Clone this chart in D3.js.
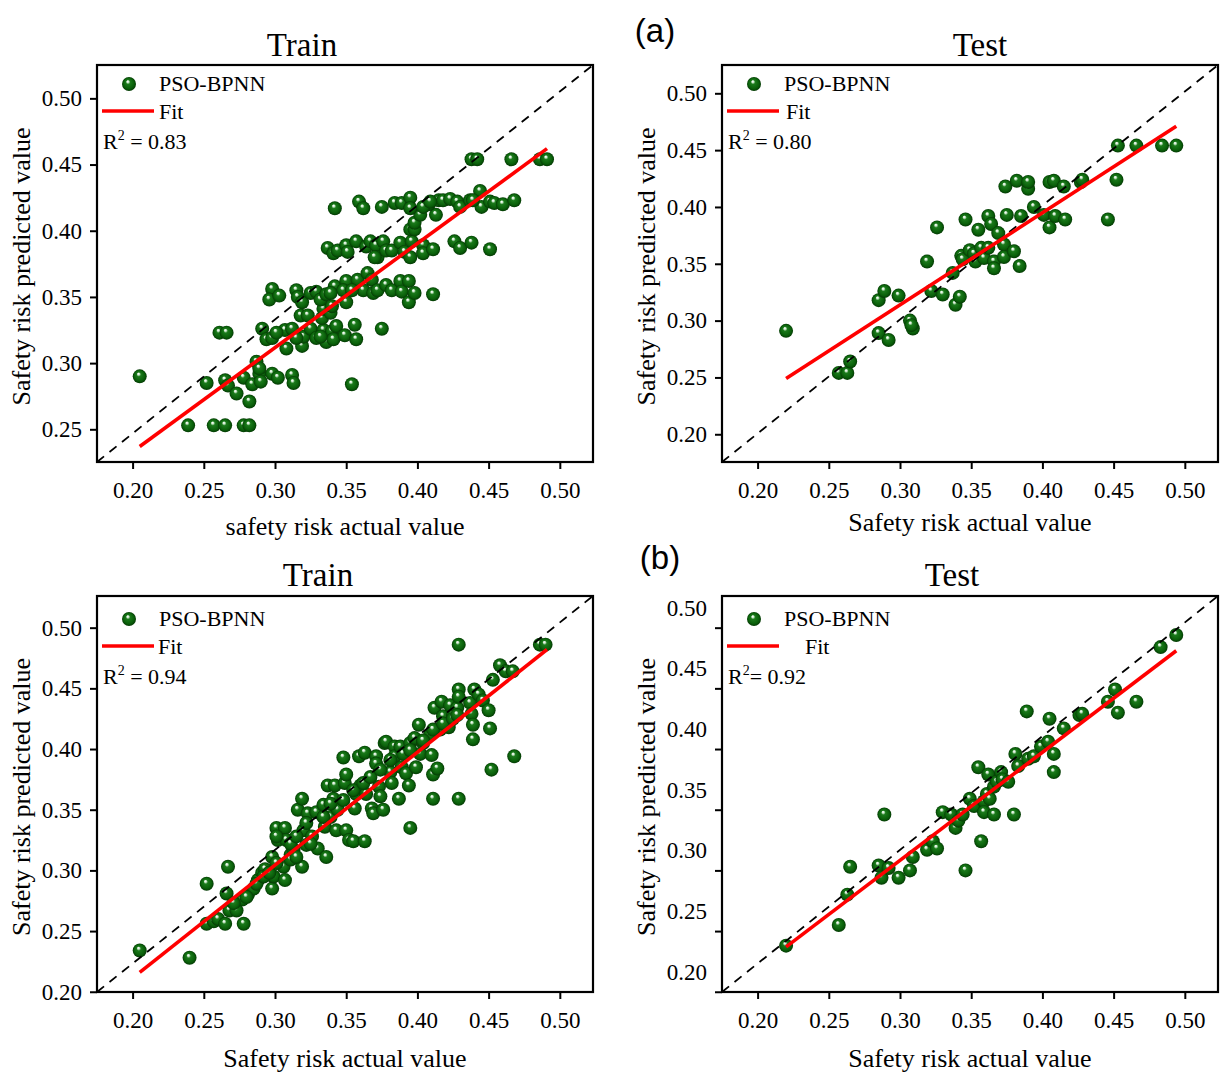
<!DOCTYPE html>
<html>
<head>
<meta charset="utf-8">
<script src="https://cdn.jsdelivr.net/npm/d3@7"></script>
<style>
  body { margin: 0; background: #fff; }
  svg text { font-family: "Liberation Serif", "Times New Roman", serif; fill: #000; }
</style>
</head>
<body>
<div id="chart"></div>
<script>

// ---- data (actual, predicted) ----
var xTicks = [0.20, 0.25, 0.30, 0.35, 0.40, 0.45, 0.50];
var yTicksA = [0.25, 0.30, 0.35, 0.40, 0.45, 0.50];
var yTicksB = [0.20, 0.25, 0.30, 0.35, 0.40, 0.45, 0.50];

var trainA = [
  [0.205,0.290],
  [0.239,0.253],[0.257,0.253],[0.265,0.253],[0.278,0.253],[0.282,0.253],
  [0.252,0.285],[0.265,0.287],[0.267,0.283],[0.273,0.277],[0.282,0.271],[0.278,0.289],[0.284,0.284],
  [0.289,0.292],[0.290,0.286],[0.298,0.292],[0.302,0.289],[0.312,0.291],[0.313,0.285],[0.287,0.301],
  [0.289,0.296],[0.354,0.284],
  [0.261,0.323],[0.266,0.323],[0.291,0.326],[0.294,0.318],[0.298,0.319],[0.307,0.325],[0.308,0.311],
  [0.312,0.326],[0.319,0.313],[0.320,0.320],[0.325,0.326],[0.329,0.319],[0.334,0.325],[0.336,0.316],
  [0.340,0.324],[0.341,0.318],[0.343,0.328],[0.349,0.321],[0.356,0.329],[0.357,0.318],[0.375,0.326],
  [0.301,0.323],[0.315,0.319],[0.332,0.320],
  [0.318,0.336],[0.323,0.336],[0.333,0.334],[0.334,0.341],[0.339,0.338],[0.340,0.343],
  [0.298,0.356],[0.296,0.348],[0.303,0.351],[0.315,0.355],[0.316,0.350],[0.319,0.346],[0.325,0.353],
  [0.329,0.354],[0.332,0.348],[0.336,0.352],[0.342,0.358],[0.350,0.362],[0.350,0.346],[0.358,0.363],
  [0.362,0.355],[0.365,0.368],[0.368,0.363],[0.369,0.353],[0.372,0.355],[0.378,0.359],[0.382,0.355],
  [0.388,0.362],[0.389,0.354],[0.394,0.362],[0.394,0.346],[0.398,0.353],[0.411,0.352],[0.348,0.355],
  [0.339,0.353],[0.354,0.355],
  [0.337,0.387],[0.341,0.383],[0.344,0.385],[0.350,0.389],[0.351,0.384],[0.357,0.392],[0.364,0.388],
  [0.367,0.392],[0.371,0.389],[0.372,0.380],[0.376,0.392],[0.378,0.385],[0.382,0.385],[0.388,0.391],
  [0.391,0.384],[0.395,0.380],[0.396,0.392],[0.404,0.389],[0.404,0.383],[0.411,0.386],[0.426,0.392],
  [0.430,0.387],[0.438,0.391],[0.451,0.386],[0.370,0.380],
  [0.395,0.401],[0.398,0.401],[0.398,0.406],[0.402,0.412],[0.413,0.412],
  [0.342,0.417],[0.359,0.422],[0.362,0.417],[0.375,0.418],[0.384,0.421],[0.389,0.421],[0.395,0.425],
  [0.395,0.417],[0.408,0.420],[0.415,0.423],[0.418,0.423],[0.423,0.424],[0.428,0.422],[0.430,0.418],
  [0.437,0.423],[0.444,0.430],[0.445,0.418],[0.451,0.422],[0.454,0.421],[0.460,0.420],[0.468,0.423],
  [0.404,0.418],[0.409,0.422],[0.439,0.423],
  [0.438,0.454],[0.442,0.454],[0.466,0.454],[0.486,0.454],[0.491,0.454]
];

var testA = [
  [0.220,0.291],[0.257,0.254],[0.263,0.254],[0.265,0.264],[0.285,0.289],[0.292,0.283],[0.285,0.318],
  [0.289,0.326],[0.299,0.322],[0.307,0.300],[0.309,0.293],[0.308,0.296],[0.319,0.352],[0.322,0.326],
  [0.330,0.323],[0.337,0.342],[0.339,0.314],[0.342,0.321],[0.326,0.382],[0.346,0.389],[0.343,0.357],
  [0.344,0.354],[0.349,0.362],[0.352,0.359],[0.353,0.352],[0.355,0.380],[0.357,0.364],[0.359,0.355],
  [0.362,0.392],[0.362,0.364],[0.364,0.385],[0.366,0.352],[0.366,0.346],[0.369,0.377],[0.373,0.367],
  [0.373,0.356],[0.374,0.418],[0.375,0.393],[0.380,0.361],[0.382,0.423],[0.384,0.348],[0.385,0.392],
  [0.390,0.416],[0.390,0.422],[0.394,0.400],[0.401,0.393],[0.405,0.382],[0.405,0.422],[0.408,0.423],
  [0.409,0.392],[0.415,0.418],[0.416,0.389],[0.427,0.422],[0.428,0.424],[0.446,0.389],[0.452,0.424],
  [0.453,0.454],[0.466,0.454],[0.484,0.454],[0.494,0.454]
];

var trainB = [
  [0.205,0.234],[0.240,0.228],[0.252,0.289],[0.252,0.256],[0.257,0.258],[0.260,0.260],[0.265,0.256],
  [0.266,0.281],[0.267,0.303],[0.268,0.267],[0.273,0.267],[0.277,0.276],[0.278,0.256],[0.281,0.280],
  [0.285,0.285],[0.288,0.292],[0.291,0.298],[0.293,0.301],[0.298,0.285],[0.298,0.311],[0.299,0.295],
  [0.301,0.335],[0.302,0.325],[0.306,0.303],[0.307,0.292],[0.307,0.335],[0.308,0.325],[0.311,0.313],
  [0.313,0.317],[0.316,0.350],[0.319,0.303],[0.319,0.359],[0.320,0.333],[0.322,0.321],[0.323,0.347],
  [0.326,0.328],[0.329,0.348],[0.330,0.318],[0.334,0.354],[0.335,0.336],[0.336,0.311],[0.337,0.370],
  [0.339,0.344],[0.341,0.359],[0.342,0.370],[0.343,0.333],[0.344,0.350],[0.348,0.393],[0.349,0.372],
  [0.350,0.379],[0.350,0.333],[0.352,0.325],[0.355,0.324],[0.356,0.351],[0.357,0.363],[0.359,0.394],
  [0.360,0.370],[0.363,0.397],[0.363,0.324],[0.364,0.363],[0.368,0.351],[0.369,0.347],[0.371,0.394],
  [0.371,0.388],[0.373,0.369],[0.374,0.361],[0.376,0.350],[0.377,0.405],[0.378,0.406],[0.381,0.381],
  [0.382,0.372],[0.384,0.402],[0.384,0.394],[0.387,0.359],[0.388,0.402],[0.389,0.385],[0.392,0.380],
  [0.394,0.370],[0.395,0.405],[0.395,0.335],[0.398,0.409],[0.399,0.385],[0.401,0.420],[0.402,0.396],
  [0.404,0.405],[0.409,0.412],[0.410,0.395],[0.411,0.379],[0.411,0.359],[0.412,0.434],[0.414,0.384],
  [0.416,0.416],[0.417,0.439],[0.418,0.427],[0.422,0.418],[0.423,0.436],[0.425,0.428],[0.428,0.434],
  [0.429,0.486],[0.429,0.449],[0.429,0.443],[0.429,0.359],[0.437,0.438],[0.438,0.429],[0.439,0.420],
  [0.439,0.408],[0.440,0.449],[0.443,0.445],[0.446,0.440],[0.450,0.432],[0.451,0.417],[0.452,0.383],
  [0.453,0.457],[0.458,0.469],[0.462,0.464],[0.467,0.464],[0.468,0.394],[0.486,0.486],[0.490,0.486],
  [0.301,0.328],[0.311,0.322],[0.315,0.328],[0.322,0.339],[0.334,0.344],[0.339,0.355],[0.348,0.358],
  [0.355,0.366],[0.362,0.372],[0.367,0.377],[0.374,0.383],[0.381,0.391],[0.390,0.396],[0.395,0.399],
  [0.404,0.407],[0.411,0.416],[0.418,0.421],[0.425,0.425],[0.428,0.428],
  [0.271,0.273],[0.280,0.278],[0.287,0.289],[0.292,0.295],[0.296,0.298],[0.301,0.306],[0.311,0.309],
  [0.315,0.311],[0.325,0.322]
];

var testB = [
  [0.220,0.238],[0.257,0.255],[0.263,0.280],[0.265,0.303],[0.285,0.304],[0.287,0.294],[0.289,0.346],
  [0.292,0.302],[0.299,0.294],[0.307,0.300],[0.309,0.311],[0.319,0.317],[0.323,0.324],[0.326,0.318],
  [0.330,0.348],[0.336,0.346],[0.339,0.335],[0.341,0.341],[0.344,0.346],[0.346,0.300],[0.349,0.359],
  [0.352,0.353],[0.355,0.385],[0.357,0.324],[0.359,0.357],[0.359,0.348],[0.361,0.363],[0.362,0.379],
  [0.363,0.359],[0.366,0.346],[0.366,0.369],[0.368,0.373],[0.371,0.381],[0.372,0.375],[0.376,0.373],
  [0.380,0.346],[0.381,0.396],[0.383,0.386],[0.389,0.431],[0.390,0.392],[0.394,0.394],[0.399,0.402],
  [0.404,0.406],[0.405,0.425],[0.408,0.396],[0.408,0.381],[0.415,0.417],[0.426,0.428],[0.428,0.429],
  [0.446,0.439],[0.451,0.449],[0.453,0.430],[0.466,0.439],[0.483,0.484],[0.494,0.494]
];

var fitTrainA = [[0.205,0.237],[0.491,0.462]];
var fitTestA  = [[0.220,0.249],[0.494,0.471]];
var fitTrainB = [[0.205,0.216],[0.491,0.482]];
var fitTestB  = [[0.220,0.237],[0.494,0.481]];

var r2Labels = [" = 0.83", " = 0.80", " = 0.94", "= 0.92"];

// ---- layout ----
var width = 1221, height = 1075;
var xDomain = [0.175, 0.5233];

var panels = [
  { title: "Train", left: 97,  top: 65,  w: 496, h: 397, yDomain: [0.2253, 0.5252], yTicks: yTicksA,
    pts: trainA, fit: fitTrainA, r2: r2Labels[0], xlab: "safety risk actual value",
    titleX: 302, titleY: 56, xlabY: 73, ylabX: 30, legFitX: 62, labShift: 0 },
  { title: "Test",  left: 722, top: 65,  w: 496, h: 397, yDomain: [0.1756, 0.5249], yTicks: yTicksB,
    pts: testA, fit: fitTestA, r2: r2Labels[1], xlab: "Safety risk actual value",
    titleX: 980, titleY: 56, xlabY: 69, ylabX: 655, legFitX: 64, labShift: 0 },
  { title: "Train", left: 97,  top: 596, w: 496, h: 396, yDomain: [0.1998, 0.5261], yTicks: yTicksB,
    pts: trainB, fit: fitTrainB, r2: r2Labels[2], xlab: "Safety risk actual value",
    titleX: 318, titleY: 586, xlabY: 75, ylabX: 30, legFitX: 61, labShift: 0 },
  { title: "Test",  left: 722, top: 596, w: 496, h: 396, yDomain: [0.1998, 0.5261], yTicks: yTicksB,
    pts: testB, fit: fitTestB, r2: r2Labels[3], xlab: "Safety risk actual value",
    titleX: 952, titleY: 586, xlabY: 75, ylabX: 655, legFitX: 83, labShift: -20 }
];

var svg = d3.select("#chart")
  .append("svg")
    .attr("width", width)
    .attr("height", height);

// shaded sphere look for the markers
var grad = svg.append("defs").append("radialGradient")
    .attr("id", "ball")
    .attr("cx", "50%").attr("cy", "50%").attr("r", "50%")
    .attr("fx", "40%").attr("fy", "30%");
grad.append("stop").attr("offset", "0%").attr("stop-color", "#ffffff");
grad.append("stop").attr("offset", "14%").attr("stop-color", "#d4ecd4");
grad.append("stop").attr("offset", "32%").attr("stop-color", "#1b7a1b");
grad.append("stop").attr("offset", "75%").attr("stop-color", "#0a600a");
grad.append("stop").attr("offset", "100%").attr("stop-color", "#043a04");

var fmt = d3.format(".2f");

panels.forEach(function(p) {
  var g = svg.append("g").attr("transform", "translate(" + p.left + "," + p.top + ")");

  var x = d3.scaleLinear().domain(xDomain).range([0, p.w]);
  var y = d3.scaleLinear().domain(p.yDomain).range([p.h, 0]);

  // axes
  var gx = g.append("g")
    .attr("transform", "translate(0," + p.h + ")")
    .call(d3.axisBottom(x).tickValues(xTicks).tickFormat(fmt).tickSize(7).tickPadding(13));
  var gy = g.append("g")
    .call(d3.axisLeft(y).tickValues(p.yTicks).tickFormat(fmt).tickSize(7).tickPadding(8));

  [gx, gy].forEach(function(a) {
    a.select(".domain").remove();
    a.selectAll(".tick line").attr("stroke", "#000").attr("stroke-width", 2);
    a.selectAll(".tick text")
      .style("font-family", "'Liberation Serif', 'Times New Roman', serif")
      .style("font-size", "23px");
  });
  if (p.labShift) gy.selectAll(".tick text").attr("transform", "translate(0," + p.labShift + ")");

  // points
  g.append("g").selectAll("circle")
    .data(p.pts)
    .enter()
    .append("circle")
      .attr("cx", function(d) { return x(d[0]); })
      .attr("cy", function(d) { return y(d[1]); })
      .attr("r", 7)
      .style("fill", "url(#ball)");

  // 1:1 reference (corner to corner)
  g.append("line")
    .attr("x1", x(xDomain[0])).attr("y1", y(p.yDomain[0]))
    .attr("x2", x(xDomain[1])).attr("y2", y(p.yDomain[1]))
    .attr("stroke", "#000")
    .attr("stroke-width", 1.8)
    .attr("stroke-dasharray", "9,7");

  // fit line
  g.append("path")
    .datum(p.fit)
    .attr("d", d3.line().x(function(d) { return x(d[0]); }).y(function(d) { return y(d[1]); }))
    .attr("stroke", "#ff0000")
    .attr("stroke-width", 3.6)
    .attr("fill", "none");

  // frame
  g.append("rect")
    .attr("width", p.w).attr("height", p.h)
    .attr("fill", "none")
    .attr("stroke", "#000")
    .attr("stroke-width", 2.2);

  // legend
  var lg = g.append("g").attr("transform", "translate(0," + (p.top > 100 ? 4 : 0) + ")");
  lg.append("circle").attr("cx", 32).attr("cy", 19).attr("r", 7).style("fill", "url(#ball)");
  lg.append("text").attr("x", 62).attr("y", 26).style("font-size", "22px").text("PSO-BPNN");
  lg.append("line").attr("x1", 5).attr("x2", 57).attr("y1", 46).attr("y2", 46)
    .attr("stroke", "#ff0000").attr("stroke-width", 3.6);
  lg.append("text").attr("x", p.legFitX).attr("y", 54).style("font-size", "22px").text("Fit");
  var r2 = lg.append("text").attr("x", 6).attr("y", 84).style("font-size", "22px");
  r2.append("tspan").text("R");
  r2.append("tspan").attr("dy", -9).style("font-size", "14px").text("2");
  r2.append("tspan").attr("dy", 9).text(p.r2);

  // titles and axis labels
  svg.append("text")
    .attr("x", p.titleX).attr("y", p.titleY)
    .attr("text-anchor", "middle")
    .style("font-size", "33px")
    .text(p.title);

  g.append("text")
    .attr("x", p.w / 2).attr("y", p.h + p.xlabY)
    .attr("text-anchor", "middle")
    .style("font-size", "26px")
    .text(p.xlab);

  svg.append("text")
    .attr("transform", "translate(" + p.ylabX + "," + (p.top + p.h / 2 + 3) + ") rotate(-90)")
    .attr("text-anchor", "middle")
    .style("font-size", "26px")
    .text("Safety risk predicted value");
});

// panel tags
svg.append("text").attr("x", 655).attr("y", 42).attr("text-anchor", "middle")
  .style("font-family", "'Liberation Sans', Arial, sans-serif").style("font-size", "33px").text("(a)");
svg.append("text").attr("x", 660).attr("y", 569).attr("text-anchor", "middle")
  .style("font-family", "'Liberation Sans', Arial, sans-serif").style("font-size", "33px").text("(b)");

</script>
</body>
</html>
